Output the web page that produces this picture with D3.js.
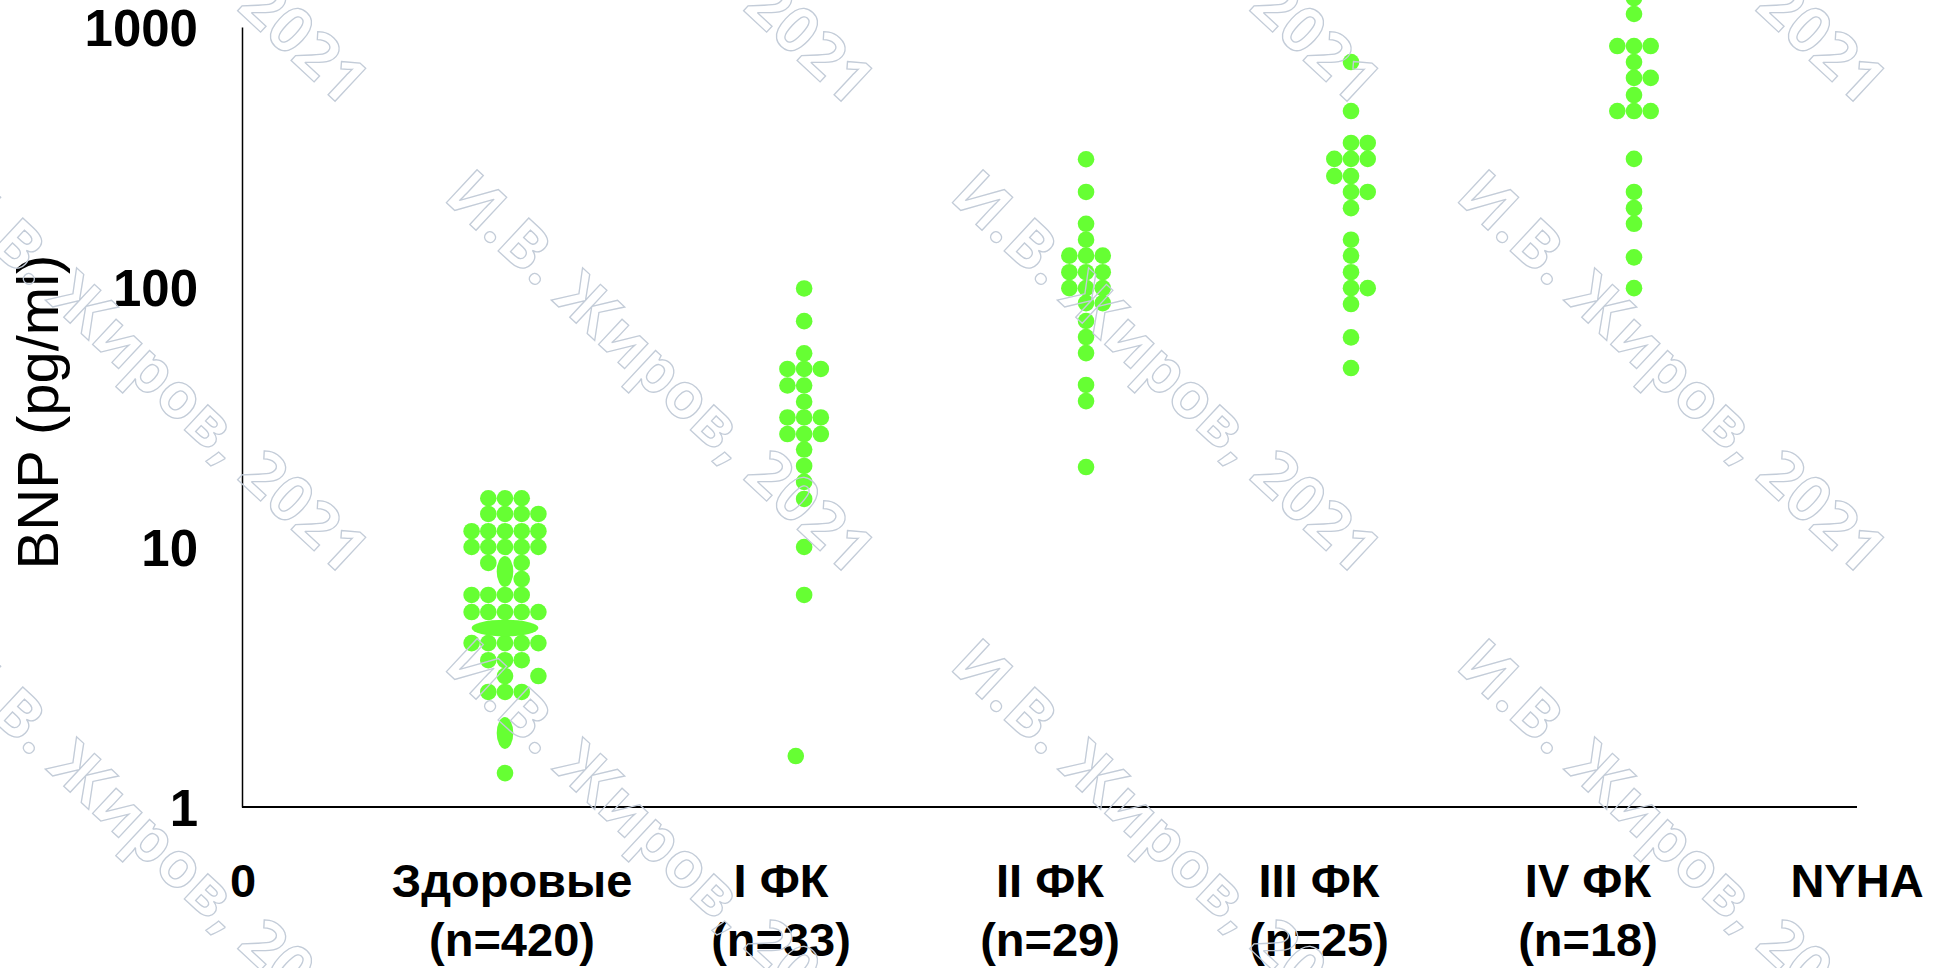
<!DOCTYPE html>
<html lang="ru">
<head>
<meta charset="UTF-8" />
<title>BNP и функциональный класс NYHA</title>
<script src="https://d3js.org/d3.v7.min.js"></script>
<style>
  body { margin: 0; background: #fff; }
  svg { display: block; }
  .lbl { font-family: "Liberation Sans", Arial, sans-serif; font-weight: bold; fill: #000; }
  .wm { font-family: "Open Sans", "DejaVu Sans", sans-serif; font-weight: bold; fill: none; stroke: #c3ccd8; stroke-width: 1.3px; }
</style>
</head>
<body>
<svg width="1934" height="968"></svg>
<script>
// categories on the x axis (0 .. NYHA)
const categories = ["0", "Здоровые", "I ФК", "II ФК", "III ФК", "IV ФК", "NYHA"];
const groupSizes = ["", "(n=420)", "(n=33)", "(n=29)", "(n=25)", "(n=18)", ""];
const yTicks = [1, 10, 100, 1000];

// where each column of dots sits on the x scale
const groupPos = [0.974, 2.086, 3.134, 4.119, 5.171];

// rows of dots: [BNP value, slots across the column]
const healthyRows = [
  [15.4, [-1, 0, 1]],
  [13.4, [-1, 0, 1, 2]],
  [11.5, [-2, -1, 0, 1, 2]],
  [10.0, [-2, -1, 0, 1, 2]],
  [8.68, [-1, 1]],
  [7.53, [1]],
  [6.54, [-2, -1, 0, 1]],
  [5.62, [-2, -1, 0, 1, 2]],
  [4.27, [-2, -1, 0, 1, 2]],
  [3.67, [-1, 0, 1]],
  [3.19, [0, 2]],
  [2.77, [-1, 0, 1]],
  [1.35, [0]]
];
// squashed (overlapping) dots: [low value, high value, half width in slots]
const healthyBlobs = [
  [7.55, 8.58, 0],
  [4.88, 4.88, 2],
  [1.80, 2.06, 0]
];
const fc1Rows = [
  [98.7, [0]], [73.9, [0]], [55.6, [0]], [48.4, [-1, 0, 1]], [41.8, [-1, 0]],
  [36.2, [0]], [31.5, [-1, 0, 1]], [27.2, [-1, 0, 1]], [23.7, [0]], [20.5, [0]],
  [17.8, [0]], [15.3, [0]], [10.0, [0]], [6.54, [0]], [1.57, [-0.5]]
];
const fc2Rows = [
  [310, [0]], [232, [0]], [175, [0]], [152, [0]], [132, [-1, 0, 1]],
  [114, [-1, 0, 1]], [99, [-1, 0, 1]], [86.7, [0, 1]], [74, [0]], [64.2, [0]],
  [55.7, [0]], [42, [0]], [36.4, [0]], [20.3, [0]]
];
const fc3Rows = [
  [733, [0]], [475, [0]], [358, [0, 1]], [311, [-1, 0, 1]], [267, [-1, 0]],
  [232, [0, 1]], [201, [0]], [152, [0]], [132, [0]], [114, [0]],
  [99, [0, 1]], [86, [0]], [64, [0]], [48.8, [0]]
];
const fc4Rows = [
  [1291, [0]], [1122, [0]], [845, [-1, 0, 1]], [733, [0]], [637, [0, 1]],
  [547, [0]], [475, [-1, 0, 1]], [311, [0]], [232, [0]], [201, [0]],
  [175, [0]], [130, [0]], [99, [0]]
];

const groupRows = [healthyRows, fc1Rows, fc2Rows, fc3Rows, fc4Rows];
const groupBlobs = [healthyBlobs, [], [], [], []];

const svg = d3.select("svg");
const green = "#66ff33";
const dotR = 8.3, slot = 16.7;

const x = d3.scaleLinear().domain([0, 6]).range([243, 1857]);
const y = d3.scaleLog().domain([1, 1000]).range([807, 27]);

// axes
const yAxis = svg.append("g")
  .attr("transform", `translate(${x(0) - 1},0)`)
  .call(d3.axisLeft(y).tickValues(yTicks).tickSize(0).tickPadding(44).tickFormat(d3.format("d")));
yAxis.select(".domain").attr("stroke", "#000").attr("stroke-width", 1.5);
yAxis.selectAll("text")
  .attr("class", "lbl")
  .attr("dy", "0.37em")
  .style("font-size", "51px");

svg.append("line")
  .attr("x1", x(0) - 1).attr("x2", x(6))
  .attr("y1", y(1)).attr("y2", y(1))
  .attr("stroke", "#000").attr("stroke-width", 2);

// x labels
const xl = svg.append("g").selectAll("text")
  .data(categories)
  .join("text")
  .attr("class", "lbl")
  .attr("text-anchor", "middle")
  .style("font-size", "47px");
xl.append("tspan").attr("x", (d, i) => x(i)).attr("y", 897).text(d => d);
xl.append("tspan").attr("x", (d, i) => x(i)).attr("y", 956).text((d, i) => groupSizes[i]);

// y title
svg.append("text")
  .attr("transform", "translate(58,412) rotate(-90)")
  .attr("text-anchor", "middle")
  .style("font-family", "'Liberation Sans', Arial, sans-serif")
  .style("font-size", "58px")
  .text("BNP (pg/ml)");

// dots
groupRows.forEach((rows, gi) => {
  const cx = x(groupPos[gi]);
  const pts = rows.flatMap(([v, cols]) => cols.map(c => ({ v, c })));
  const g = svg.append("g");
  g.selectAll("circle")
    .data(pts)
    .join("circle")
    .attr("cx", d => cx + d.c * slot)
    .attr("cy", d => y(d.v))
    .attr("r", dotR)
    .attr("fill", green);
  g.selectAll("ellipse")
    .data(groupBlobs[gi])
    .join("ellipse")
    .attr("cx", cx)
    .attr("cy", d => (y(d[0]) + y(d[1])) / 2)
    .attr("rx", d => Math.max(dotR, d[2] * slot))
    .attr("ry", d => dotR + (y(d[0]) - y(d[1])) / 2)
    .attr("fill", green);
});

// watermark
const wm = svg.append("g");
for (let i = -1; i <= 3; i++) {
  for (let j = -1; j <= 1; j++) {
    wm.append("text")
      .attr("class", "wm")
      .attr("transform", `translate(${662 + 506 * i},${370 + 469 * j}) rotate(43)`)
      .attr("text-anchor", "middle")
      .attr("dominant-baseline", "central")
      .attr("textLength", 555)
      .attr("lengthAdjust", "spacing")
      .style("font-size", "63px")
      .text("И.В. Жиров, 2021");
  }
}
</script>
</body>
</html>
